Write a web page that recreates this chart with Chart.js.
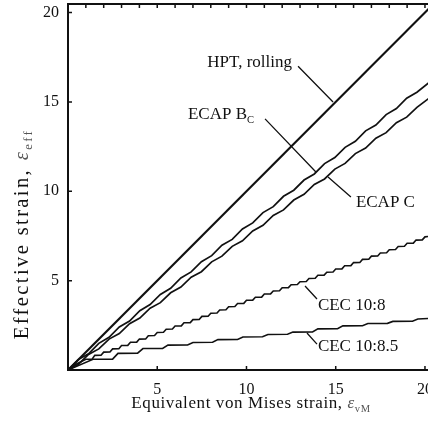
<!DOCTYPE html>
<html><head><meta charset="utf-8">
<script src="https://cdn.jsdelivr.net/npm/chart.js@4"></script>
<style>html,body{margin:0;padding:0;background:#fff;overflow:hidden}</style>
</head><body>
<canvas id="c" width="428" height="426"></canvas>
<script>
// ---- data ----
const hptX = [0, 20.3];
const hptY = [0, 20.3];

const ecapBcX = [0,0.575,1.15,1.725,2.3,2.875,3.45,4.025,4.6,5.175,5.75,6.325,6.9,7.475,8.05,8.625,9.2,9.775,10.35,10.925,11.5,12.075,12.65,13.225,13.8,14.375,14.95,15.525,16.1,16.675,17.25,17.825,18.4,18.975,19.55,20.2];
const ecapBcY = [0,0.58,0.91,1.49,1.83,2.41,2.74,3.32,3.66,4.23,4.57,5.15,5.49,6.06,6.40,6.98,7.31,7.89,8.23,8.81,9.14,9.72,10.06,10.63,10.97,11.55,11.89,12.46,12.80,13.38,13.71,14.29,14.63,15.21,15.54,16.06];

const ecapCX = [0,0.575,1.15,1.725,2.3,2.875,3.45,4.025,4.6,5.175,5.75,6.325,6.9,7.475,8.05,8.625,9.2,9.775,10.35,10.925,11.5,12.075,12.65,13.225,13.8,14.375,14.95,15.525,16.1,16.675,17.25,17.825,18.4,18.975,19.55,20.2];
const ecapCY = [0,0.31,0.87,1.18,1.73,2.04,2.59,2.91,3.46,3.77,4.32,4.64,5.19,5.50,6.05,6.37,6.92,7.23,7.78,8.10,8.65,8.96,9.51,9.83,10.38,10.69,11.24,11.56,12.11,12.42,12.97,13.28,13.84,14.15,14.70,15.19];

const cec108X = [0,0.5,1.0,1.35,1.5,1.85,2.0,2.35,2.5,2.85,3.0,3.35,3.5,3.85,4.0,4.35,4.5,4.85,5.0,5.35,5.5,5.85,6.0,6.35,6.5,6.85,7.0,7.35,7.5,7.85,8.0,8.35,8.5,8.85,9.0,9.35,9.5,9.85,10.0,10.35,10.5,10.85,11.0,11.35,11.5,11.85,12.0,12.35,12.5,12.85,13.0,13.35,13.5,13.85,14.0,14.35,14.5,14.85,15.0,15.35,15.5,15.85,16.0,16.35,16.5,16.85,17.0,17.35,17.5,17.85,18.0,18.35,18.5,18.85,19.0,19.35,19.5,19.85,20.0,20.2];
const cec108Y = [0,0.35,0.6,0.61,0.82,0.83,1.0,1.01,1.18,1.19,1.37,1.38,1.55,1.56,1.73,1.74,1.92,1.93,2.1,2.11,2.28,2.29,2.46,2.47,2.64,2.65,2.82,2.83,3.0,3.01,3.18,3.19,3.36,3.37,3.54,3.55,3.72,3.73,3.9,3.91,4.07,4.08,4.25,4.26,4.42,4.43,4.6,4.61,4.77,4.78,4.94,4.95,5.12,5.13,5.3,5.31,5.47,5.48,5.65,5.66,5.83,5.84,6.01,6.02,6.19,6.2,6.37,6.38,6.55,6.56,6.73,6.74,6.91,6.92,7.09,7.1,7.27,7.28,7.45,7.47];

const cec1085X = [0,1.4,2.5,2.8,3.9,4.2,5.3,5.6,6.7,7.0,8.1,8.4,9.5,9.8,10.9,11.2,12.3,12.6,13.7,14.0,15.1,15.4,16.5,16.8,17.9,18.2,19.3,19.6,20.2];
const cec1085Y = [0,0.6,0.61,0.93,0.94,1.20,1.21,1.39,1.40,1.54,1.55,1.70,1.71,1.85,1.86,1.99,2.00,2.12,2.13,2.30,2.31,2.47,2.48,2.60,2.61,2.72,2.73,2.85,2.88];

const xTickValues = [5, 10, 15, 20];
const yTickValues = [5, 10, 15, 20];
const topTickValues = [1,2,3,4,5,6,7,8,9,10,11,12,13,14,15,16,17,18,19,20];

const seriesNames = ["HPT, rolling", "ECAP B", "ECAP C", "CEC 10:8", "CEC 10:8.5"];

// ---- build ----
const pts = (xs, ys) => xs.map((x, i) => ({x: x, y: ys[i]}));
const SERIF = "'Liberation Serif','Times New Roman',serif";
const INK = '#111';

// annotation labels: leader line (data coords) + text anchor (data coords)
const notes = [
  {parts:[{t:'HPT, rolling'}], tx:12.55, ty:17.2, align:'right', l:[12.89,17.0,14.85,15.0]},
  {parts:[{t:'ECAP B'},{t:'C', sub:true}], tx:6.72, ty:14.27, align:'left', l:[11.04,14.05,13.89,11.08]},
  {parts:[{t:'ECAP C'}], tx:16.13, ty:9.35, align:'left', l:[14.57,10.8,15.85,9.68]},
  {parts:[{t:'CEC 10:8'}], tx:14.0, ty:3.58, align:'left', l:[13.28,4.70,13.95,3.97]},
  {parts:[{t:'CEC 10:8.5'}], tx:14.0, ty:1.29, align:'left', l:[13.39,2.07,13.95,1.45]}
];

function richWidth(ctx, parts, size) {
  let w = 0;
  for (const p of parts) {
    ctx.font = (p.italic ? 'italic ' : '') + (p.sub ? size*0.62 : size) + 'px ' + SERIF;
    w += ctx.measureText(p.t).width;
  }
  return w;
}
function drawRich(ctx, parts, x, y, align, size) {
  const w = richWidth(ctx, parts, size);
  let cx = align === 'right' ? x - w : (align === 'center' ? x - w/2 : x);
  ctx.textBaseline = 'middle';
  ctx.textAlign = 'left';
  for (const p of parts) {
    const s = p.sub ? size*0.62 : size;
    ctx.font = (p.italic ? 'italic ' : '') + s + 'px ' + SERIF;
    ctx.fillStyle = p.color || INK;
    ctx.fillText(p.t, cx, y + (p.sub ? size*0.3 : 0));
    cx += ctx.measureText(p.t).width;
  }
}

const decor = {
  id: 'decor',
  afterDraw(chart) {
    const ctx = chart.ctx, a = chart.chartArea;
    const xs = chart.scales.x, ys = chart.scales.y;
    ctx.save();
    ctx.strokeStyle = INK;
    ctx.lineWidth = 2;
    ctx.beginPath();
    ctx.moveTo(a.right + 2, a.top); ctx.lineTo(a.left, a.top);
    ctx.lineTo(a.left, a.bottom); ctx.lineTo(a.right + 2, a.bottom);
    ctx.stroke();
    ctx.lineWidth = 1.5;
    ctx.beginPath();
    for (const v of xTickValues) { const px = xs.getPixelForValue(v); ctx.moveTo(px, a.bottom); ctx.lineTo(px, a.bottom - 4); }
    for (const v of yTickValues) { const py = ys.getPixelForValue(v); ctx.moveTo(a.left, py); ctx.lineTo(a.left + 4, py); }
    for (const v of topTickValues) { const px = xs.getPixelForValue(v); ctx.moveTo(px, a.top); ctx.lineTo(px, a.top + 4); }
    ctx.stroke();
    // leaders
    ctx.lineWidth = 1.3;
    ctx.beginPath();
    for (const n of notes) {
      ctx.moveTo(xs.getPixelForValue(n.l[0]), ys.getPixelForValue(n.l[1]));
      ctx.lineTo(xs.getPixelForValue(n.l[2]), ys.getPixelForValue(n.l[3]));
    }
    ctx.stroke();
    for (const n of notes) {
      drawRich(ctx, n.parts, xs.getPixelForValue(n.tx), ys.getPixelForValue(n.ty), n.align, 17);
    }
    // axis titles
    ctx.letterSpacing = '0.6px';
    drawRich(ctx, [{t:'Equivalent von Mises strain, '},{t:'ε', italic:true, color:'#555'},{t:'vM', sub:true, color:'#555'}], 251, 404, 'center', 17);
    ctx.letterSpacing = '2.4px';
    ctx.translate(23, 234);
    ctx.rotate(-Math.PI/2);
    drawRich(ctx, [{t:'Effective strain, '},{t:'ε', italic:true, color:'#555'},{t:'eff', sub:true, color:'#555'}], 0, 0, 'center', 20.5);
    ctx.restore();
  }
};

new Chart(document.getElementById('c'), {
  type: 'line',
  data: {
    datasets: [
      {label: seriesNames[0], data: pts(hptX, hptY), borderColor: INK, borderWidth: 2.2},
      {label: seriesNames[1], data: pts(ecapBcX, ecapBcY), borderColor: INK, borderWidth: 1.7},
      {label: seriesNames[2], data: pts(ecapCX, ecapCY), borderColor: INK, borderWidth: 1.7},
      {label: seriesNames[3], data: pts(cec108X, cec108Y), borderColor: INK, borderWidth: 1.6},
      {label: seriesNames[4], data: pts(cec1085X, cec1085Y), borderColor: INK, borderWidth: 1.6}
    ]
  },
  options: {
    responsive: false,
    devicePixelRatio: 1,
    animation: false,
    parsing: false,
    elements: {point: {radius: 0}, line: {tension: 0, fill: false}},
    layout: {padding: {top: 4, right: 0, left: 0, bottom: 0}},
    plugins: {legend: {display: false}, tooltip: {enabled: false}},
    scales: {
      x: {
        type: 'linear', min: 0, max: 20.17,
        afterBuildTicks: s => { s.ticks = xTickValues.map(v => ({value: v})); },
        afterFit: s => { s.height = 56; s.paddingLeft = 0; s.paddingRight = 0; },
        grid: {display: false, drawTicks: false},
        border: {display: false},
        ticks: {padding: 10, color: INK, font: {family: SERIF, size: 16}, maxRotation: 0}
      },
      y: {
        type: 'linear', min: 0, max: 20.48,
        afterBuildTicks: s => { s.ticks = yTickValues.map(v => ({value: v})); },
        afterFit: s => { s.width = 68; s.paddingTop = 0; s.paddingBottom = 0; },
        grid: {display: false, drawTicks: false},
        border: {display: false},
        ticks: {padding: 9, color: INK, font: {family: SERIF, size: 16}}
      }
    }
  },
  plugins: [decor]
});
</script>
</body></html>
